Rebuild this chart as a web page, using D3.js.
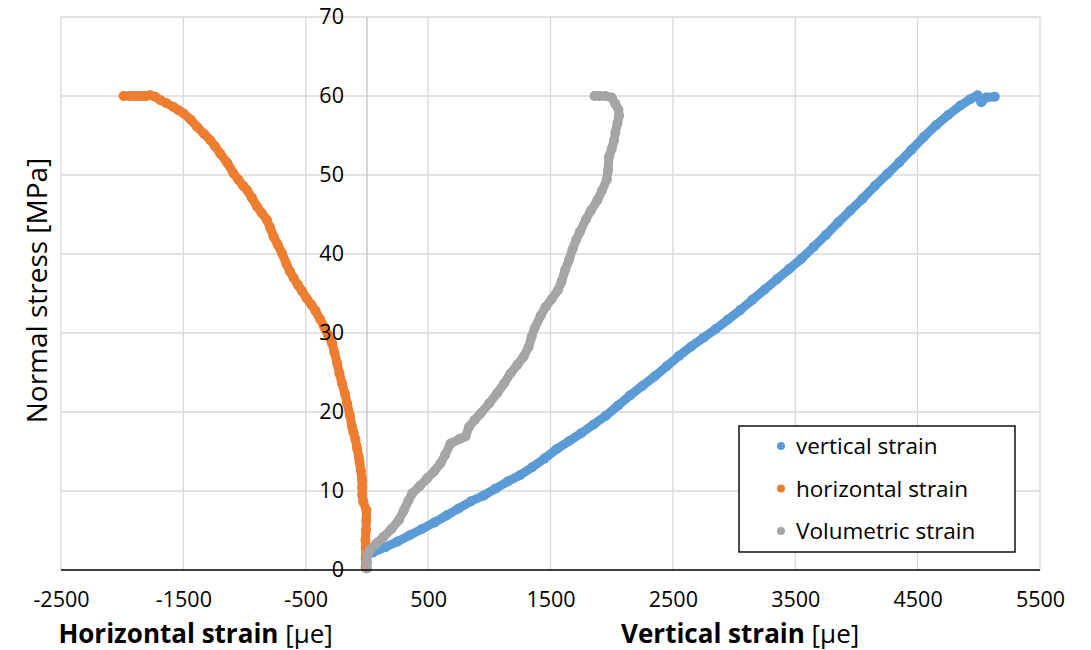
<!DOCTYPE html>
<html>
<head>
<meta charset="utf-8">
<script src="https://cdn.jsdelivr.net/npm/d3@7"></script>
<style>
  html, body { margin: 0; padding: 0; background: #fff; }
  svg { display: block; font-family: "Open Sans", Lato, sans-serif; }
</style>
</head>
<body>
<svg id="chart" width="1091" height="650"></svg>
<script>
// Stress-strain readings: [strain (µe), normal stress (MPa)]
const verticalStrain = [
  [45,2.2],[150,2.9],[250,3.6],[350,4.4],[450,5.2],[550,6.0],[650,6.9],[750,7.8],[850,8.7],
  [950,9.4],[1050,10.3],[1150,11.2],[1250,12.0],[1350,13.0],[1450,14.1],[1550,15.3],[1650,16.3],
  [1750,17.3],[1850,18.4],[1950,19.5],[2050,20.8],[2150,22.1],[2250,23.3],[2350,24.5],[2450,25.8],
  [2550,27.1],[2650,28.3],[2750,29.4],[2850,30.5],[2950,31.7],[3050,32.9],[3150,34.2],[3250,35.5],
  [3350,36.8],[3450,38.1],[3550,39.4],[3650,40.9],[3750,42.4],[3850,44.0],[3950,45.5],[4050,47.0],
  [4150,48.6],[4250,50.1],[4350,51.6],[4450,53.2],[4550,54.8],[4650,56.3],[4750,57.6],[4850,58.8],
  [4930,59.6],[4990,60.1],[5020,59.2],[5060,59.8],[5130,59.9]
];
const horizontalStrain = [
  [-10,0.3],[-10,1.5],[-10,2.8],[-12,3.8],[-8,5.0],[-5,6.3],[-4,7.6],[-30,8.6],[-39,9.5],
  [-39,10.5],[-40,11.4],[-50,12.6],[-60,13.6],[-67,14.3],[-80,15.4],[-94,16.5],[-110,17.4],
  [-121,18.1],[-140,19.6],[-162,21.1],[-180,22.3],[-203,23.6],[-225,24.9],[-244,26.2],[-265,27.5],
  [-285,28.7],[-320,29.8],[-350,30.8],[-385,31.8],[-420,32.8],[-455,33.6],[-494,34.4],[-530,35.3],
  [-565,36.1],[-600,37.0],[-630,37.8],[-660,38.8],[-694,40.1],[-730,41.2],[-763,42.2],[-790,43.3],
  [-817,44.3],[-860,45.2],[-898,46.0],[-940,47.1],[-980,48.1],[-1010,48.6],[-1050,49.4],[-1090,50.2],
  [-1140,51.5],[-1198,52.7],[-1240,53.6],[-1280,54.4],[-1330,55.2],[-1389,56.1],[-1440,57.0],
  [-1499,57.8],[-1540,58.2],[-1580,58.6],[-1640,59.1],[-1689,59.5],[-1730,59.9],[-1771,60.1],
  [-1800,60.0],[-1826,60.0],[-1860,60.0],[-1900,60.0],[-1940,60.0],[-1989,60.0]
];
const volumetricStrain = [
  [0,0.2],[0,1.0],[5,2.0],[30,2.7],[80,3.4],[137,4.2],[200,5.2],[260,6.3],[300,7.5],[340,8.8],
  [370,9.7],[430,10.6],[492,11.6],[550,12.5],[601,13.5],[640,14.6],[683,16.0],[760,16.6],[806,16.9],
  [833,18.1],[880,19.0],[928,19.8],[1000,21.1],[1065,22.4],[1120,23.6],[1174,24.9],[1230,26.0],
  [1280,27.0],[1320,28.2],[1345,29.5],[1370,30.6],[1420,32.2],[1460,33.3],[1510,34.3],[1560,35.4],
  [1590,36.5],[1620,38.0],[1650,39.2],[1680,40.6],[1710,41.8],[1740,42.8],[1790,44.4],[1830,45.5],
  [1883,46.8],[1920,48.0],[1960,49.4],[1970,50.6],[1978,52.3],[2000,53.3],[2020,54.4],[2030,55.4],
  [2046,56.5],[2060,57.5],[2055,58.3],[2030,59.0],[2000,59.8],[1950,60.0],[1900,60.0],[1860,60.0]
];

const seriesNames = ["vertical strain", "horizontal strain", "Volumetric strain"];
const seriesColors = ["#5b9bd5", "#ed7d31", "#a5a5a5"];
const xTicks = [-2500, -1500, -500, 500, 1500, 2500, 3500, 4500, 5500];
const yTicks = [0, 10, 20, 30, 40, 50, 60, 70];

const svg = d3.select("#chart");
const x = d3.scaleLinear().domain([-2500, 5500]).range([61, 1040]);
const y = d3.scaleLinear().domain([0, 70]).range([570, 17]);

// gridlines
const grid = svg.append("g");
grid.selectAll("line.v").data(xTicks).join("line")
  .attr("x1", d => x(d)).attr("x2", d => x(d))
  .attr("y1", y(70)).attr("y2", y(0))
  .attr("stroke", "#d9d9d9").attr("stroke-width", 1.3);
grid.selectAll("line.h").data(yTicks.filter(d => d > 0)).join("line")
  .attr("x1", x(-2500)).attr("x2", x(5500))
  .attr("y1", d => y(d)).attr("y2", d => y(d))
  .attr("stroke", "#d9d9d9").attr("stroke-width", 1.3);

// vertical value axis at zero strain
svg.append("line")
  .attr("x1", x(0)).attr("x2", x(0)).attr("y1", y(70)).attr("y2", y(0))
  .attr("stroke", "#bfbfbf").attr("stroke-width", 1.3);

// data series, drawn in order so volumetric sits on top
const allSeries = [verticalStrain, horizontalStrain, volumetricStrain];
const line = d3.line().x(d => x(d[0])).y(d => y(d[1]));
allSeries.forEach((data, i) => {
  const g = svg.append("g");
  g.append("path").datum(data).attr("d", line)
    .attr("fill", "none").attr("stroke", seriesColors[i])
    .attr("stroke-width", 9).attr("stroke-linejoin", "round").attr("stroke-linecap", "round");
  g.selectAll("circle").data(data).join("circle")
    .attr("cx", d => x(d[0])).attr("cy", d => y(d[1])).attr("r", 5)
    .attr("fill", seriesColors[i]);
});

// horizontal axis line
svg.append("line")
  .attr("x1", x(-2500)).attr("x2", x(5500)).attr("y1", y(0)).attr("y2", y(0))
  .attr("stroke", "#000").attr("stroke-width", 1.5);

// tick labels
const fmt = d => String(d);
const xAxis = svg.append("g").attr("transform", `translate(0,${y(0)})`)
  .call(d3.axisBottom(x).tickValues(xTicks).tickSize(0).tickPadding(22).tickFormat(fmt));
const yAxis = svg.append("g").attr("transform", `translate(${x(0)},0)`)
  .call(d3.axisLeft(y).tickValues(yTicks).tickSize(0).tickPadding(23).tickFormat(fmt));
[xAxis, yAxis].forEach(a => {
  a.select(".domain").remove();
  a.selectAll("text").attr("font-family", "'Open Sans', sans-serif").attr("font-size", 21.5).attr("fill", "#000");
});

// axis titles
svg.append("text")
  .attr("transform", `translate(47,${(y(0) + y(70)) / 2 - 3}) rotate(-90)`)
  .attr("text-anchor", "middle").attr("font-size", 28).attr("fill", "#000")
  .text("Normal stress [MPa]");

const hTitle = svg.append("text").attr("x", x(-1400)).attr("y", 643)
  .attr("text-anchor", "middle").attr("font-size", 26).attr("fill", "#000");
hTitle.append("tspan").attr("font-weight", "bold").text("Horizontal strain");
hTitle.append("tspan").text(" [µe]");

const vTitle = svg.append("text").attr("x", x(3050)).attr("y", 643)
  .attr("text-anchor", "middle").attr("font-size", 26).attr("fill", "#000");
vTitle.append("tspan").attr("font-weight", "bold").text("Vertical strain");
vTitle.append("tspan").text(" [µe]");

// legend
const legend = svg.append("g").attr("transform", "translate(739,426)");
legend.append("rect").attr("width", 276).attr("height", 126)
  .attr("fill", "#fff").attr("stroke", "#000").attr("stroke-width", 1.4);
seriesNames.forEach((name, i) => {
  const row = legend.append("g").attr("transform", `translate(0,${20 + i * 42.5})`);
  row.append("circle").attr("cx", 42).attr("cy", 0).attr("r", 4).attr("fill", seriesColors[i]);
  row.append("text").attr("x", 57).attr("y", 0).attr("dy", "0.36em")
    .attr("font-size", 22.5).attr("fill", "#000").text(name);
});
</script>
</body>
</html>
